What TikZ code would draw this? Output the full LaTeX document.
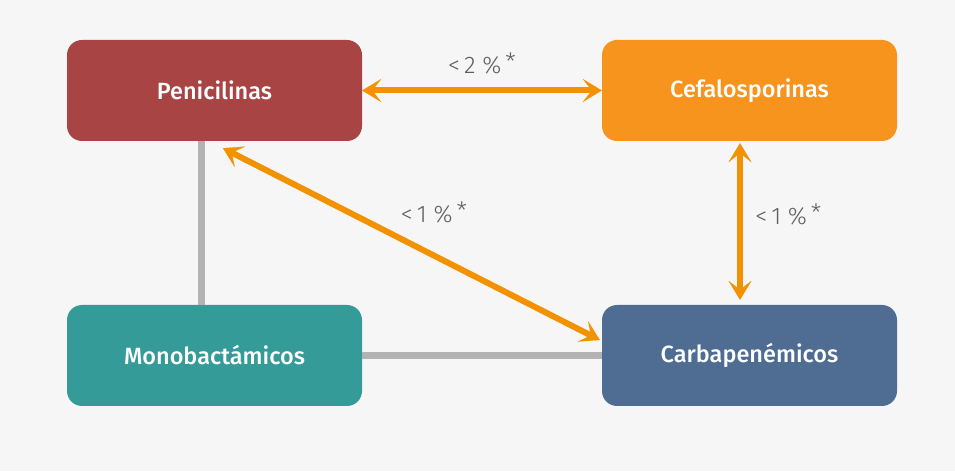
\documentclass[tikz,border=0pt]{standalone}
\usepackage{fontspec}
\setmainfont{Fira Sans}[BoldFont={Fira Sans Medium}]
\newfontfamily\pctfont{Fira Sans Light}
\usetikzlibrary{arrows.meta}
\definecolor{bgGray}{HTML}{F6F6F6}
\definecolor{peniRed}{HTML}{A84444}
\definecolor{cefaOrange}{HTML}{F7941E}
\definecolor{monoTeal}{HTML}{359B98}
\definecolor{carbaBlue}{HTML}{4F6D92}
\definecolor{arrowOrange}{HTML}{F39200}
\definecolor{linkGray}{HTML}{B3B3B3}
\definecolor{pctGray}{HTML}{5E5E5E}
\tikzset{
BOX/.style={rounded corners=15pt,minimum width=295pt,minimum height=101pt,text=white,font=\fontsize{23.5}{26}\selectfont\bfseries,fill=#1},
CROSS/.style={draw=arrowOrange,line width=6pt,{Stealth[length=19pt,width=23pt,inset=9pt,line width=0.1pt]}-{Stealth[length=19pt,width=23pt,inset=9pt,line width=0.1pt]}},
LINK/.style={draw=linkGray,line width=7pt},
PCT/.style={text=pctGray,font=\pctfont\fontsize{24}{28}\selectfont},
}
\newcommand{\pct}[1]{<\,#1\ \%\,\raisebox{3pt}{*}}
\begin{document}
\begin{tikzpicture}[x=1pt,y=1pt]
	\fill[bgGray] (0,0) rectangle (955,471);
	\useasboundingbox (0,0) rectangle (955,471);
	\node[BOX=peniRed] (peni) at (214.5,380.5) {Penicilinas};
	\node[BOX=cefaOrange] (cefa) at (749.5,380.5) {Cefalosporinas};
	\node[BOX=monoTeal] (mono) at (214.5,115.5) {Monobactámicos};
	\node[BOX=carbaBlue] (carba) at (749.5,115.5) {Carbapenémicos};
	% grey links
	\path[LINK] ([xshift=-13.5pt]peni.south) -- ([xshift=-13.5pt]mono.north);
	\path[LINK] (mono.east) -- (carba.west);
	% orange arrows
	\path[CROSS] (peni.east) -- node[PCT,above=10pt] (pctA) {\pct{2}} (cefa.west);
	\path[CROSS,shorten <=2pt,shorten >=5pt] ([xshift=-9.5pt]cefa.south) -- node[PCT,right=9pt,pos=0.45] (pctB) {\pct{1}} ([xshift=-9.5pt]carba.north);
	\path[CROSS] ([xshift=8.5pt,yshift=-7pt]peni.south) -- node[PCT,pos=0.56,above=26pt] (pctC) {\pct{1}} ([xshift=-2pt,yshift=15.5pt]carba.west);
\end{tikzpicture}
\end{document}
